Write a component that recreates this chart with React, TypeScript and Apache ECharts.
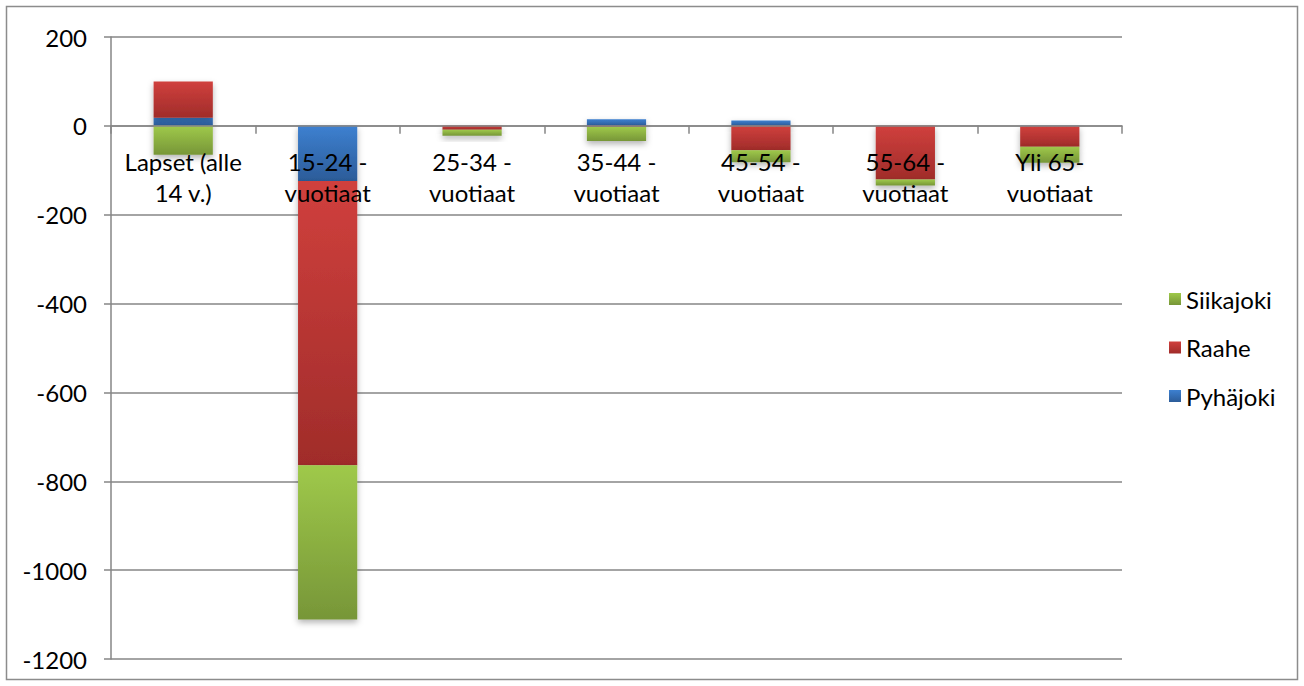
import React, { useEffect, useRef } from "react";
import * as echarts from "echarts";

const categories = [
  "Lapset (alle\n14 v.)",
  "15-24 -\nvuotiaat",
  "25-34 -\nvuotiaat",
  "35-44 -\nvuotiaat",
  "45-54 -\nvuotiaat",
  "55-64 -\nvuotiaat",
  "Yli 65-\nvuotiaat",
];
const pyhajoki = [18, -124, 0, 15, 12, 0, -1];
const raahe = [82, -640, -9, -2, -55, -121, -46];
const siikajoki = [-65, -347, -13, -32, -27, -13, -36];

const FONT = "Lato, 'Noto Sans', sans-serif";

const grad = (top: string, bottom: string) => ({
  type: "linear",
  x: 0,
  y: 0,
  x2: 0,
  y2: 1,
  colorStops: [
    { offset: 0, color: top },
    { offset: 1, color: bottom },
  ],
});

export default function App() {
  const ref = useRef<HTMLDivElement>(null);
  useEffect(() => {
    document.body.style.margin = "0";
    const chart = echarts.init(ref.current!, null, { renderer: "svg" });
    const barStyle = (top: string, bottom: string) => ({
      color: grad(top, bottom),
      shadowBlur: 6,
      shadowOffsetY: 3,
      shadowColor: "rgba(0,0,0,0.3)",
    });
    const mk = (name: string, data: number[], top: string, bottom: string) => ({
      name,
      type: "bar",
      stack: "total",
      data,
      barWidth: "41%",
      itemStyle: barStyle(top, bottom),
      emphasis: { disabled: true },
    });
    const top = 37;
    const bottomPx = 659;
    const zeroY = top + ((bottomPx - top) * 200) / 1400;
    chart.setOption({
      animation: false,
      backgroundColor: "#ffffff",
      textStyle: { fontFamily: FONT },
      graphic: [
        {
          type: "rect",
          shape: { x: 6.5, y: 6.5, width: 1291, height: 673 },
          style: { fill: "none", stroke: "#8c8c8c", lineWidth: 1.5 },
          silent: true,
        },
      ],
      grid: {
        left: 111,
        right: 182,
        top: top,
        bottom: 686 - bottomPx,
        containLabel: false,
        outerBoundsMode: "none",
      },
      legend: {
        orient: "vertical",
        left: 1164,
        top: 282,
        itemWidth: 12,
        itemHeight: 12,
        itemGap: 24.5,
        icon: "rect",
        data: ["Siikajoki", "Raahe", "Pyhäjoki"],
        textStyle: { fontFamily: FONT, fontSize: 24, color: "#000" },
        selectedMode: false,
      },
      xAxis: {
        type: "category",
        data: categories,
        z: 10,
        position: "bottom",
        offset: -(bottomPx - zeroY),
        axisLine: { onZero: false, lineStyle: { color: "#868686", width: 1.5 } },
        axisTick: { show: true, alignWithLabel: false, length: 8, lineStyle: { color: "#868686", width: 1.5 } },
        axisLabel: {
          fontFamily: FONT,
          fontSize: 24,
          color: "#000",
          margin: 20,
          lineHeight: 31,
          interval: 0,
        },
      },
      yAxis: {
        type: "value",
        min: -1200,
        max: 200,
        interval: 200,
        axisLine: { show: true, lineStyle: { color: "#868686", width: 1.5 } },
        axisTick: { show: true, length: 7, lineStyle: { color: "#868686", width: 1.5 } },
        splitLine: { show: true, lineStyle: { color: "#868686", width: 1.5 } },
        axisLabel: {
          fontFamily: FONT,
          fontSize: 24,
          color: "#000",
          margin: 24,
          formatter: (v: number) => String(v),
        },
      },
      series: [
        mk("Pyhäjoki", pyhajoki, "#3d80d0", "#2c5c99"),
        mk("Raahe", raahe, "#d0403d", "#a02c2a"),
        mk("Siikajoki", siikajoki, "#9fc94a", "#779638"),
      ],
    });
    return () => chart.dispose();
  }, []);
  return <div ref={ref} style={{ width: 1304, height: 686 }} />;
}
